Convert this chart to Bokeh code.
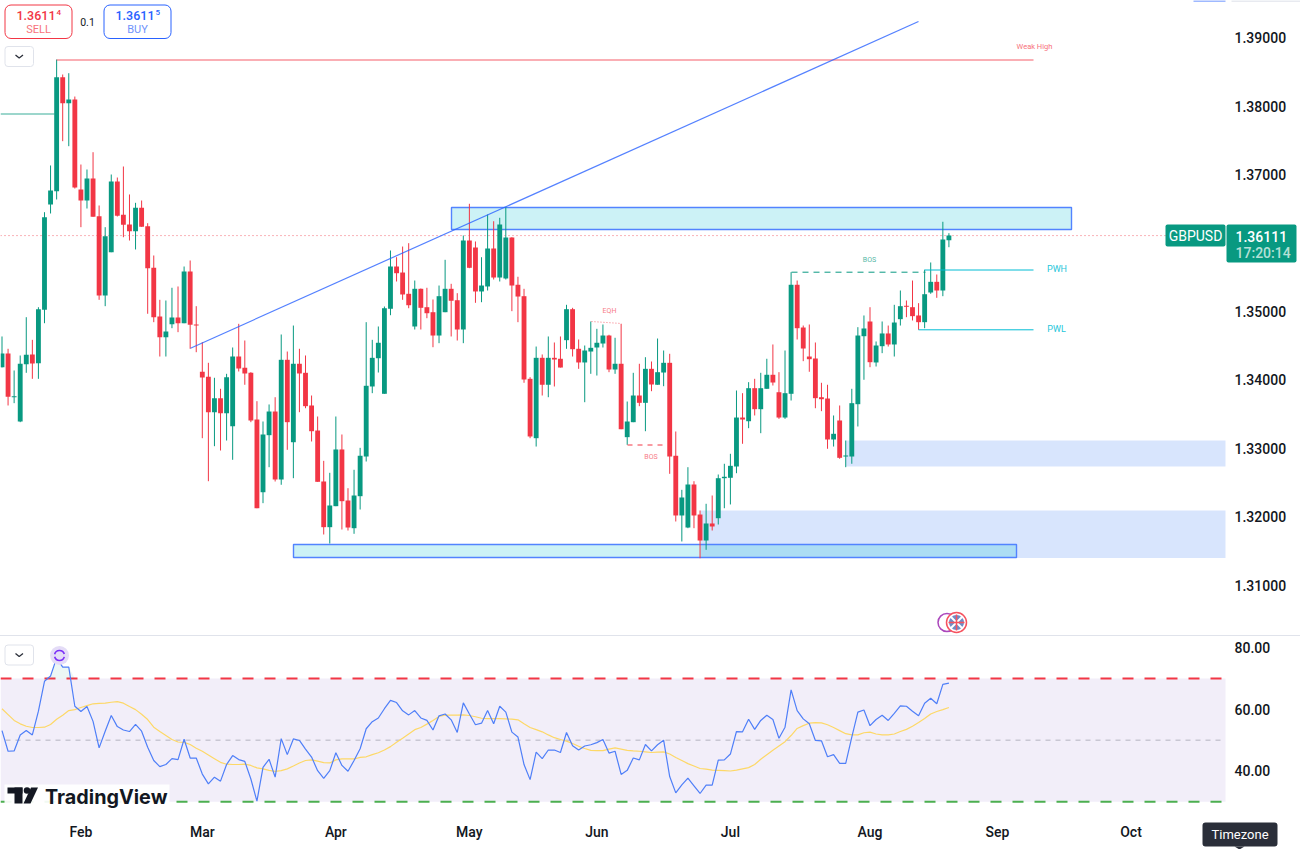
from bokeh.plotting import figure
from bokeh.layouts import column
from bokeh.models import Spacer, FixedTicker, NumeralTickFormatter, Range1d
from bokeh.core.properties import value
from bokeh.embed import file_html
from bokeh.resources import INLINE

opens = [
1.34187,1.34387,1.33748,1.33393,1.34231,1.34373,1.34245,1.35026,1.36566,1.36760,
1.38427,1.38047,1.38101,1.36785,1.36624,1.36946,1.36394,1.35235,1.35868,1.36902,
1.36415,1.36273,1.36175,1.36517,1.36248,1.35640,1.34928,1.34625,1.34816,1.34913,
1.34830,1.35586,1.34811,1.34120,1.34046,1.33529,1.33734,1.33514,1.33324,1.34343,
1.34178,1.34105,1.33422,1.32359,1.33193,1.33539,1.32545,1.34295,1.33090,1.34237,
1.34105,1.33627,1.33261,1.32516,1.31848,1.32155,1.32984,1.32238,1.31833,1.32301,
1.32881,1.33905,1.34318,1.33798,1.35041,1.35659,1.35571,1.35260,1.34782,1.35333,
1.35064,1.34991,1.34650,1.34991,1.35333,1.35166,1.34738,1.36039,1.35937,1.35294,
1.35367,1.35922,1.35498,1.35484,1.36083,1.35392,1.35225,1.34017,1.33149,1.34324,
1.33930,1.34324,1.34310,1.34582,1.35035,1.34456,1.34256,1.34416,1.34475,1.34533,
1.34650,1.34153,1.34237,1.33164,1.33383,1.33773,1.33666,1.34163,1.33930,1.34109,
1.34251,1.32892,1.32019,1.31843,1.32472,1.32033,1.31653,1.31902,1.31979,1.32564,
1.32570,1.32735,1.33451,1.33397,1.33880,1.33573,1.33871,1.34076,1.33821,1.33451,
1.33798,1.35392,1.34767,1.34343,1.34314,1.33748,1.33729,1.33130,1.33408,1.32881,
1.32881,1.33646,1.34640,1.34855,1.34256,1.34494,1.34680,1.34519,1.34889,1.35085,
1.35064,1.34943,1.34845,1.35279,1.35435,1.35308,1.36044]
closes = [
1.34387,1.33754,1.33763,1.34237,1.34368,1.34241,1.35035,1.36380,1.36770,1.38427,
1.38047,1.38101,1.36814,1.36624,1.36946,1.36386,1.35235,1.36102,1.36902,1.36400,
1.36269,1.36175,1.36517,1.36239,1.35634,1.34918,1.34625,1.34709,1.34913,1.34830,
1.35586,1.34807,1.34796,1.34036,1.33529,1.33734,1.33514,1.34041,1.34343,1.34168,
1.34095,1.33408,1.32125,1.33203,1.33539,1.32545,1.34295,1.33383,1.34237,1.34095,
1.33617,1.33251,1.32511,1.31848,1.32165,1.32984,1.32228,1.31843,1.32311,1.32892,
1.33915,1.34324,1.34544,1.35049,1.35659,1.35561,1.35250,1.35093,1.35333,1.35055,
1.34976,1.34650,1.35225,1.35333,1.35158,1.34738,1.36039,1.35640,1.35294,1.35381,
1.35922,1.35498,1.36273,1.36083,1.35381,1.35220,1.34007,1.33174,1.34324,1.33930,
1.34324,1.34299,1.34182,1.35035,1.34450,1.34256,1.34431,1.34470,1.34544,1.34650,
1.34153,1.34237,1.33280,1.33393,1.33773,1.33666,1.34163,1.33934,1.34114,1.34251,
1.32881,1.32019,1.32282,1.32472,1.32019,1.31653,1.31902,1.31858,1.32564,1.32585,
1.32745,1.33451,1.33422,1.33880,1.33573,1.33880,1.34076,1.33963,1.33451,1.33807,
1.35392,1.34757,1.34460,1.34304,1.33734,1.33719,1.33130,1.33213,1.32862,1.32896,
1.33661,1.34650,1.34753,1.34260,1.34504,1.34680,1.34519,1.34840,1.35079,1.35070,
1.34933,1.34845,1.35254,1.35435,1.35308,1.36054,1.36111]
highs = [
1.34636,1.34456,1.34139,1.34358,1.34918,1.34587,1.35064,1.36453,1.37136,1.38685,
1.38466,1.38485,1.38144,1.37150,1.37077,1.37330,1.36551,1.36234,1.37004,1.36960,
1.37121,1.36712,1.36590,1.36624,1.36292,1.35820,1.35172,1.35162,1.35348,1.35367,
1.35659,1.35747,1.35079,1.34552,1.34251,1.34032,1.33871,1.34090,1.34475,1.34821,
1.34577,1.34114,1.33690,1.33393,1.33642,1.33748,1.34665,1.34416,1.34796,1.34456,
1.34358,1.33773,1.33466,1.32818,1.32643,1.33466,1.33203,1.32418,1.32687,1.33008,
1.34845,1.34587,1.34782,1.35074,1.35893,1.35795,1.35951,1.36000,1.35454,1.35337,
1.35348,1.35177,1.35381,1.35757,1.35406,1.35269,1.36112,1.36576,1.36025,1.35795,
1.36419,1.36321,1.36371,1.36526,1.36087,1.35509,1.35333,1.34041,1.34489,1.34373,
1.34636,1.34548,1.34636,1.35099,1.35055,1.34592,1.34504,1.34855,1.34748,1.34811,
1.34661,1.34617,1.34821,1.33685,1.34105,1.34237,1.34333,1.34270,1.34606,1.34431,
1.34383,1.33247,1.32394,1.32725,1.32520,1.32092,1.32190,1.32311,1.32618,1.32775,
1.32921,1.33846,1.33807,1.33968,1.34017,1.34105,1.34310,1.34519,1.34114,1.34431,
1.35576,1.35454,1.34796,1.34811,1.34548,1.33959,1.33930,1.33481,1.33627,1.33115,
1.33871,1.34772,1.34943,1.35064,1.34563,1.34855,1.34796,1.35099,1.35308,1.35162,
1.35454,1.35123,1.35611,1.35718,1.35542,1.36313,1.36146]
lows = [
1.34183,1.33627,1.33661,1.33383,1.34105,1.34017,1.34017,1.34830,1.36434,1.36639,
1.37491,1.37418,1.36799,1.36234,1.36507,1.36386,1.35172,1.35079,1.35868,1.36390,
1.36087,1.36039,1.35908,1.36239,1.34968,1.34845,1.34343,1.34343,1.34757,1.34699,
1.34830,1.34456,1.34406,1.33149,1.32520,1.33032,1.32969,1.33115,1.32833,1.34124,
1.33930,1.33383,1.32125,1.32199,1.32725,1.32516,1.32468,1.32979,1.32564,1.33529,
1.33587,1.33101,1.32511,1.31741,1.31609,1.32155,1.31814,1.31799,1.31751,1.32106,
1.32808,1.33807,1.34109,1.33798,1.34947,1.35440,1.35172,1.35049,1.34738,1.34738,
1.34903,1.34479,1.34538,1.34991,1.34636,1.34577,1.34538,1.35634,1.35128,1.35137,
1.35308,1.35469,1.35440,1.35469,1.35006,1.34845,1.33959,1.33149,1.33027,1.33773,
1.33748,1.33905,1.34182,1.34456,1.34343,1.34163,1.33675,1.34090,1.34065,1.34475,
1.34114,1.34090,1.33280,1.33052,1.33383,1.33617,1.33251,1.33836,1.33930,1.33909,
1.32628,1.31931,1.31639,1.31833,1.31833,1.31394,1.31517,1.31799,1.31887,1.32125,
1.32180,1.32637,1.33067,1.33295,1.33481,1.33222,1.33871,1.33919,1.33432,1.33432,
1.33700,1.34592,1.34275,1.34120,1.33587,1.33544,1.32994,1.33027,1.32848,1.32725,
1.32775,1.33320,1.34003,1.34187,1.34197,1.34392,1.34489,1.34343,1.34796,1.34918,
1.34870,1.34734,1.34757,1.35260,1.35201,1.35225,1.35941]

rsi = [
53.1,46.4,46.5,51.7,53.1,51.7,59.4,69.1,70.8,76.7,73.7,73.7,61.0,59.3,60.9,56.1,47.5,52.9,58.0,54.4,
53.3,52.8,55.1,52.9,47.7,43.4,41.4,42.1,44.0,43.7,50.3,44.2,44.2,39.0,35.8,38.0,36.7,42.1,45.0,43.7,
43.1,37.4,30.2,41.2,43.8,38.0,50.5,45.3,50.4,49.9,47.1,44.5,40.1,37.6,40.1,45.9,41.8,39.9,43.4,47.2,
53.7,56.0,57.2,60.2,62.9,62.2,59.5,58.2,59.6,57.2,56.4,53.3,57.9,58.5,56.6,52.5,62.1,58.5,55.0,55.5,
59.6,55.3,61.0,59.1,52.6,51.0,42.1,37.2,46.1,44.0,46.8,46.8,46.0,52.5,48.2,46.8,48.1,48.5,49.2,50.2,
45.8,46.4,38.9,40.2,44.2,43.6,48.6,46.5,48.5,50.0,38.2,32.9,35.5,37.7,35.2,32.7,35.4,35.4,43.5,43.6,
45.5,52.8,52.7,56.8,53.5,56.4,58.1,56.7,50.6,54.2,66.3,59.6,56.9,55.3,49.9,49.8,44.6,45.3,42.5,42.5,
51.0,59.1,59.8,54.7,56.7,58.1,56.4,58.7,61.1,61.0,59.4,57.9,62.0,63.6,61.8,68.1,68.5]
rsi_ma = [
60.2,58.3,56.4,55.3,54.5,54.1,54.1,54.2,55.1,56.8,58.1,59.6,59.9,60.6,61.2,61.8,61.9,62.0,62.3,62.5,
62.0,60.9,59.9,58.4,56.7,54.2,52.8,51.5,50.2,49.4,49.3,48.6,47.4,46.4,45.2,44.0,42.8,42.2,42.1,42.1,
42.2,41.8,41.0,40.7,40.2,39.9,40.1,40.7,41.6,42.6,43.4,43.6,43.2,42.7,42.6,43.6,43.9,43.9,43.9,44.4,
44.6,45.3,45.9,46.8,47.9,49.3,50.6,52.0,53.4,54.1,55.2,56.4,57.7,58.1,58.1,58.1,58.2,58.0,57.6,57.1,
57.0,57.0,57.0,56.9,56.8,56.6,55.3,54.1,53.4,52.7,51.7,50.8,50.2,49.7,48.9,48.0,47.3,46.7,46.6,46.6,
47.1,47.5,47.1,46.7,46.5,46.4,46.2,46.0,46.1,46.2,45.5,44.4,43.4,42.4,41.6,40.8,40.6,40.3,40.2,40.1,
40.0,40.3,40.7,41.1,42.1,43.8,45.3,46.7,48.1,49.5,51.5,53.8,54.7,55.5,55.7,55.6,55.0,54.1,53.1,52.1,
51.7,51.7,52.4,52.6,52.0,51.7,51.7,52.0,52.8,53.5,54.5,55.7,57.0,58.5,59.3,59.9,60.6]

price_ticks = [1.31, 1.32, 1.33, 1.34, 1.35, 1.37, 1.38, 1.39]
rsi_ticks = [40, 60, 80]
month_ticks = [13, 33, 55, 77, 98, 120, 143, 164, 186]
month_labels = ["Feb", "Mar", "Apr", "May", "Jun", "Jul", "Aug", "Sep", "Oct"]

GREEN = "#089981"
RED = "#f23645"
BLUE = "#2962ff"
CYAN = "#00bcd4"
TEXT = "#131722"
FONT = value("Roboto")
AXIS_FONT = "Roboto Medium, Roboto"


# Pixel helpers for the chart furniture only (boxes, buttons, labels).
def X(px):
    return (px - 1.5) / 6.07


def Y(px):
    return 1.39548 - px * 0.0001462


def R(px):
    return 70 - (px - 678) / 3.083


def style_axis(axis, standoff):
    axis.axis_line_color = None
    axis.major_tick_line_color = None
    axis.minor_tick_line_color = None
    axis.major_tick_in = 0
    axis.major_tick_out = 0
    axis.minor_tick_in = 0
    axis.minor_tick_out = 0
    axis.major_label_standoff = standoff
    axis.major_label_text_font = AXIS_FONT
    axis.major_label_text_font_size = "14px"
    axis.major_label_text_font_style = "normal"
    axis.major_label_text_color = TEXT


idx = list(range(len(opens)))
up = [c >= o for o, c in zip(opens, closes)]
colors = [GREEN if u else RED for u in up]
tops = [max(o, c) for o, c in zip(opens, closes)]
bots = [min(o, c) for o, c in zip(opens, closes)]

p = figure(frame_width=1300, frame_height=635, min_border=0, toolbar_location=None, output_backend="svg",
           x_range=Range1d(X(0), X(1300)), y_range=Range1d(Y(635), Y(0)),
           x_axis_location=None, y_axis_location="right", outline_line_color=None)
p.grid.visible = False
ya = p.yaxis[0]
ya.ticker = FixedTicker(ticks=price_ticks)
ya.formatter = NumeralTickFormatter(format="0.00000")
style_axis(ya, -66)

# Zones
p.quad(left=[X(700), X(845.5)], right=[X(1225), X(1225)], top=[Y(510), Y(440)], bottom=[Y(557.5), Y(466)],
       fill_color="#3a7bf5", fill_alpha=0.2, line_color=None)
p.quad(left=[X(451), X(293)], right=[X(1071), X(1016)], top=[Y(207), Y(544)], bottom=[Y(229), Y(557)],
       fill_color=CYAN, fill_alpha=0.2, line_color="#5283ff", line_width=1.4)

# Current-price dotted line
p.line([X(0), X(1165)], [closes[-1], closes[-1]], line_color=RED, line_alpha=0.75, line_dash="1 3", line_width=1)

# Candles
p.segment(idx, highs, idx, lows, line_color=colors, line_width=1)
p.vbar(x=idx, top=tops, bottom=bots, width=0.8, fill_color=colors, line_color=None)

# Levels and structure
p.line([9, X(1033)], [Y(59.5), Y(59.5)], line_color=RED, line_alpha=0.8, line_width=1)
p.line([X(0), X(54)], [Y(113.5), Y(113.5)], line_color=GREEN, line_alpha=0.8, line_width=1)
p.line([X(190), X(918)], [Y(347.7), Y(21)], line_color=BLUE, line_alpha=0.8, line_width=1.2)
p.line([X(791), X(925)], [Y(271.7), Y(271.7)], line_color=GREEN, line_dash="6 5", line_width=1)
p.line([X(924), X(1033)], [Y(269.5), Y(269.5)], line_color=CYAN, line_width=1)
p.line([X(918), X(1033)], [Y(329.3), Y(329.3)], line_color=CYAN, line_width=1)
p.line([X(591), X(621)], [Y(321), Y(323)], line_color=RED, line_alpha=0.7, line_dash="1 2", line_width=1)
p.line([X(627), X(665)], [Y(444.5), Y(444.5)], line_color=RED, line_dash="5 5", line_width=1)

small = dict(text_font=FONT, text_baseline="middle", text_align="center")
left = dict(text_font=value(AXIS_FONT), text_baseline="middle", text_align="left")
p.text([X(1034)], [Y(46)], ["Weak High"], text_color="#f7727c", text_font_size="7.5px", **small)
p.text([X(1056.5)], [Y(268.5)], ["PWH"], text_color="#26c6da", text_font_size="9px", **small)
p.text([X(1056)], [Y(328)], ["PWL"], text_color="#26c6da", text_font_size="9px", **small)
p.text([X(869)], [Y(259.5)], ["BOS"], text_color="#55b8a6", text_font_size="7px", **small)
p.text([X(650.5)], [Y(456)], ["BOS"], text_color="#f77c88", text_font_size="7px", **small)
p.text([X(609)], [Y(310)], ["EQH"], text_color="#f77c88", text_font_size="7px", **small)

# Symbol and price tags
p.quad(left=[X(1165), X(1226)], right=[X(1225), X(1296)], top=[Y(224), Y(224)], bottom=[Y(246), Y(262)],
       fill_color=GREEN, line_color=None, border_radius=2)
p.text([X(1195)], [Y(235.5)], ["GBPUSD"], text_color="white", text_font_size="14px", **small)
p.text([X(1235)], [Y(235.5)], ["1.36111"], text_color="white", text_font_size="14px", **left)
p.text([X(1235)], [Y(252.5)], ["17:20:14"], text_color="#b4e0d6", text_font_size="14px", **left)

# Trade buttons
p.quad(left=[X(4.5), X(103.5)], right=[X(71.5), X(170.5)], top=[Y(4.5), Y(4.5)], bottom=[Y(38), Y(38)],
       fill_color="white", line_color=[RED, BLUE], border_radius=6, line_width=1)
p.text([X(16)], [Y(14.5)], ["1.3611"], text_color=RED, text_font_size="12.5px", **left)
p.text([X(56)], [Y(12)], ["4"], text_color=RED, text_font_size="8px", **left)
p.text([X(38)], [Y(28.5)], ["SELL"], text_color="#f7727c", text_font_size="11px", **small)
p.text([X(115)], [Y(14.5)], ["1.3611"], text_color=BLUE, text_font_size="12.5px", **left)
p.text([X(155)], [Y(12)], ["5"], text_color=BLUE, text_font_size="8px", **left)
p.text([X(137)], [Y(28.5)], ["BUY"], text_color="#6f93fb", text_font_size="11px", **small)
p.text([X(87)], [Y(21)], ["0.1"], text_color=TEXT, text_font_size="10.5px", **small)

# Collapse button
p.quad(left=[X(4.5)], right=[X(33)], top=[Y(46)], bottom=[Y(66)], fill_color="white", line_color="#e0e3eb", border_radius=3)
p.line([X(15), X(18.7), X(22.5)], [Y(54.5), Y(57.5), Y(54.5)], line_color="#2a2e39", line_width=1.3)

# Currency badge
p.scatter([X(946.5)], [Y(622)], size=18, marker="circle", fill_color="white", line_color="#ab47bc", line_width=1.5)
p.scatter([X(956)], [Y(622)], size=20, marker="circle", fill_color="white", line_color="#f6525f", line_width=1.5)
p.scatter([X(956)], [Y(622)], size=15, marker="circle", fill_color="#6f8dc8", line_color=None)
p.multi_line([[X(950), X(962)], [X(950), X(962)]], [[Y(616), Y(628)], [Y(628), Y(616)]], line_color="white", line_width=2)
p.multi_line([[X(956), X(956)], [X(948), X(964)]], [[Y(614), Y(630)], [Y(622), Y(622)]], line_color="#f6525f", line_width=1.5)

# Sliver of the header at the very top
p.line([X(1193), X(1225)], [Y(0.5), Y(0.5)], line_color=BLUE, line_alpha=0.6, line_width=1.5)
p.line([X(1231), X(1300)], [Y(0.5), Y(0.5)], line_color="#e0e3eb", line_width=1.5)

sep = Spacer(width=1300, height=1, styles={"background-color": "#e0e3eb"})

q = figure(frame_width=1300, frame_height=213, min_border=0, toolbar_location=None, output_backend="svg",
           x_range=Range1d(X(0), X(1300)), y_range=Range1d(R(849), R(636)),
           y_axis_location="right", outline_line_color=None)
q.grid.visible = False
ya2 = q.yaxis[0]
ya2.ticker = FixedTicker(ticks=rsi_ticks)
ya2.formatter = NumeralTickFormatter(format="0.00")
style_axis(ya2, -66)
xa = q.xaxis[0]
xa.ticker = FixedTicker(ticks=month_ticks)
xa.major_label_overrides = dict(zip(month_ticks, month_labels))
style_axis(xa, -26)

q.quad(left=[X(0)], right=[X(1225)], top=[70], bottom=[30], fill_color="#7e57c2", fill_alpha=0.1, line_color=None)
q.line([X(0), X(1225)], [70, 70], line_color=RED, line_width=2, line_dash="11 11")
q.line([X(0), X(1225)], [30, 30], line_color="#4caf50", line_width=2, line_dash="11 11")
q.line([X(5), X(1225)], [50, 50], line_color="#787b86", line_alpha=0.5, line_width=1, line_dash="5 5")
ob_i = idx[7:13]
q.varea(ob_i, [70] * len(ob_i), [max(v, 70) for v in rsi[7:13]], fill_color=GREEN, fill_alpha=0.08)
q.line(idx, rsi_ma, line_color="#fdd867", line_width=1.2)
q.line(idx, rsi, line_color="#4f7ff8", line_width=1.2)

q.quad(left=[X(4.5)], right=[X(33)], top=[R(644.5)], bottom=[R(664.5)], fill_color="white", line_color="#e0e3eb", border_radius=3)
q.line([X(15), X(18.7), X(22.5)], [R(653), R(656), R(653)], line_color="#2a2e39", line_width=1.3)

# Alert badge at the RSI peak
q.scatter([X(59)], [R(655)], size=19, marker="circle", fill_color="#e4dcf7", line_color=None)
q.arc([X(59), X(59)], [R(655), R(655)], radius=5, radius_units="screen", start_angle=[0.3, 3.4], end_angle=[2.9, 6.0],
      line_color="#7b2ff7", line_width=1.6)

# Logo
q.quad(left=[X(4)], right=[X(169)], top=[R(784)], bottom=[R(808)], fill_color="white", fill_alpha=0.92, line_color=None)
q.quad(left=[X(7), X(14)], right=[X(22), X(22)], top=[R(787), R(787)], bottom=[R(793), R(803)], fill_color=TEXT, line_color=None)
q.scatter([X(26.5)], [R(790)], size=6.5, marker="circle", fill_color=TEXT, line_color=None)
q.patch([X(30.5), X(37.5), X(30), X(23)], [R(787), R(787), R(803), R(803)], fill_color=TEXT, line_color=None)
q.text([X(44.5)], [R(796)], ["TradingView"], text_font=value("Inter"), text_font_style="bold", text_font_size="19.8px",
       text_color=TEXT, text_baseline="middle", text_align="left")

# Tooltip
q.quad(left=[X(1202)], right=[X(1277)], top=[R(822)], bottom=[R(846)], fill_color="#2a2e39", line_color=None, border_radius=3)
q.patch([X(1234), X(1244), X(1239)], [R(846), R(846), R(849)], fill_color="#2a2e39", line_color=None)
q.text([X(1239.5)], [R(834)], ["Timezone"], text_color="white", text_font_size="13px", **small)

layout = column(p, sep, q, spacing=0)
open("out.html", "w").write(file_html(layout, INLINE))
